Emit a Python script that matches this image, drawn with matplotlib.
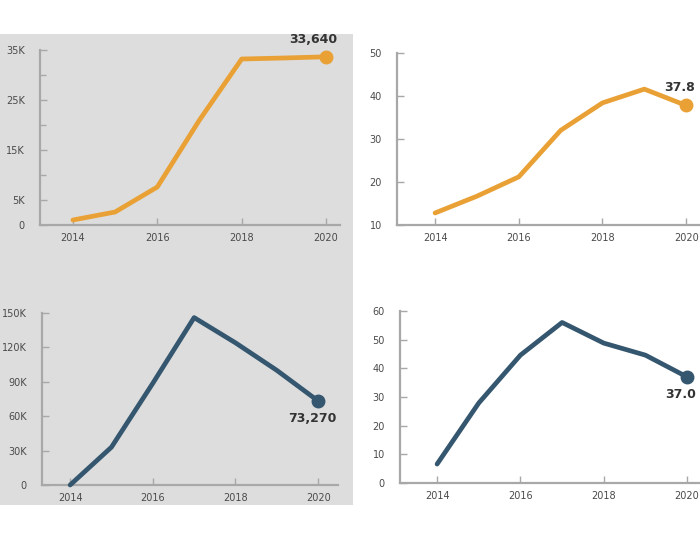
import matplotlib
matplotlib.use('Agg')
import matplotlib.pyplot as plt
from matplotlib.patches import Rectangle
from matplotlib.ticker import FuncFormatter

# ---------------------------------------------------------------------------
# data
# ---------------------------------------------------------------------------
years = [2014, 2015, 2016, 2017, 2018, 2019, 2020]

tl_values = [1000, 2600, 7600, 21000, 33200, 33400, 33640]
tr_values = [12.8, 16.7, 21.2, 32.0, 38.4, 41.6, 37.8]
bl_values = [0, 33000, 88700, 146000, 124000, 100000, 73270]
br_values = [6.6, 27.9, 44.6, 56.0, 48.8, 44.6, 37.0]

tl_label = '33,640'
tr_label = '37.8'
bl_label = '73,270'
br_label = '37.0'

x_ticks = [2014, 2016, 2018, 2020]
tl_yticks = [0, 5000, 15000, 25000, 35000]
tl_yminor = [10000, 20000, 30000]
tr_yticks = [10, 20, 30, 40, 50]
bl_yticks = [0, 30000, 60000, 90000, 120000, 150000]
br_yticks = [0, 10, 20, 30, 40, 50, 60]

ORANGE = '#E9A136'
NAVY = '#35566F'
SPINE = '#A8A8A8'
TICK_TXT = '#4A4A4A'

W, H = 700, 540
fig = plt.figure(figsize=(W / 100, H / 100), dpi=100)
fig.patch.set_facecolor('white')

# grey panel behind the left column
fig.patches.append(Rectangle((0, 1 - 505 / H), 353 / W, (505 - 34) / H,
                             transform=fig.transFigure, facecolor='#DDDDDD',
                             edgecolor='none', zorder=-5))


def _axes(x0, y_top, x1, y_bot):
    ax = fig.add_axes([x0 / W, 1 - y_bot / H, (x1 - x0) / W, (y_bot - y_top) / H])
    ax.set_zorder(2)
    ax.patch.set_alpha(0)
    for s in ('top', 'right'):
        ax.spines[s].set_visible(False)
    for s in ('left', 'bottom'):
        ax.spines[s].set_color(SPINE)
        ax.spines[s].set_linewidth(1.6)
    ax.tick_params(axis='both', which='both', direction='in', color=SPINE,
                   labelcolor=TICK_TXT, labelsize=7)
    ax.tick_params(axis='y', length=5, width=1, pad=11)
    ax.tick_params(axis='y', which='minor', length=4, width=1)
    ax.tick_params(axis='x', length=5, width=1, pad=6)
    ax.set_xticks(x_ticks)
    return ax


def _kfmt(v, _):
    return '0' if v == 0 else f'{int(v / 1000)}K'


def _series(ax, values, color, label, offset, ha, va):
    ax.plot(years, values, color=color, lw=3.4, solid_capstyle='round',
            solid_joinstyle='round', clip_on=False, zorder=3)
    ax.plot(years[-1], values[-1], 'o', color=color, ms=9, clip_on=False, zorder=4)
    ax.annotate(label, (years[-1], values[-1]), xytext=offset,
                textcoords='offset points', ha=ha, va=va, fontsize=9,
                fontweight='bold', color='#333333', annotation_clip=False)


# top-left
ax = _axes(40, 50, 340, 225)
ax.set_xlim(2013.22, 2020.33)
ax.set_ylim(0, 35000)
ax.set_yticks(tl_yticks)
ax.set_yticks(tl_yminor, minor=True)
ax.yaxis.set_major_formatter(FuncFormatter(_kfmt))
_series(ax, tl_values, ORANGE, tl_label, (8, 8), 'right', 'bottom')

# top-right
ax = _axes(397, 53, 700, 225)
ax.set_xlim(2013.09, 2020.33)
ax.set_ylim(10, 50)
ax.set_yticks(tr_yticks)
_series(ax, tr_values, ORANGE, tr_label, (-16, 8), 'left', 'bottom')

# bottom-left
ax = _axes(42, 313, 338, 485)
ax.set_xlim(2013.32, 2020.48)
ax.set_ylim(0, 150000)
ax.set_yticks(bl_yticks)
ax.yaxis.set_major_formatter(FuncFormatter(_kfmt))
_series(ax, bl_values, NAVY, bl_label, (-4, -8), 'center', 'top')

# bottom-right
ax = _axes(400, 311, 700, 483)
ax.set_xlim(2013.11, 2020.31)
ax.set_ylim(0, 60)
ax.set_yticks(br_yticks)
_series(ax, br_values, NAVY, br_label, (-16, -8), 'left', 'top')

fig.savefig('out.png', dpi=100, facecolor=fig.get_facecolor())
